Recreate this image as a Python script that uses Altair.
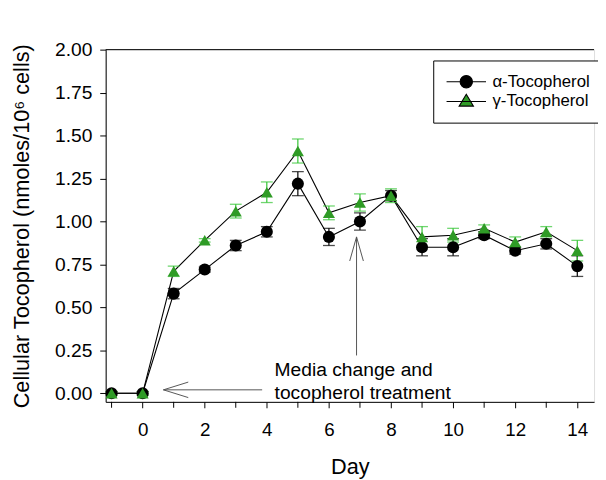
import altair as alt
import pandas as pd

days = [-1, 0, 1, 2, 3, 4, 5, 6, 7, 8, 9, 10, 11, 12, 13, 14]
alpha = [0.0, 0.0, 0.58, 0.72, 0.86, 0.94, 1.22, 0.91, 1.00, 1.15, 0.85, 0.85, 0.92, 0.83, 0.87, 0.74]
alpha_err = [0.01, 0.01, 0.03, 0.015, 0.03, 0.03, 0.07, 0.05, 0.05, 0.03, 0.05, 0.05, 0.02, 0.02, 0.03, 0.06]
gamma = [0.0, 0.0, 0.71, 0.89, 1.06, 1.17, 1.41, 1.05, 1.11, 1.15, 0.91, 0.92, 0.96, 0.88, 0.94, 0.83]
gamma_err = [0.01, 0.01, 0.03, 0.01, 0.04, 0.06, 0.07, 0.04, 0.05, 0.04, 0.06, 0.04, 0.02, 0.03, 0.03, 0.06]

series_names = ["α-Tocopherol", "γ-Tocopherol"]
label_days = [0, 2, 4, 6, 8, 10, 12, 14]
minor_days = [-1, 1, 3, 5, 7, 9, 11, 13]

rows = []
for name, vals, errs in [(series_names[0], alpha, alpha_err), (series_names[1], gamma, gamma_err)]:
    for d, v, e in zip(days, vals, errs):
        rows.append({"day": d, "value": v, "lo": v - e, "hi": v + e, "series": name})
df = pd.DataFrame(rows)

# annotation geometry (data coordinates)
note_x = [4.25, 4.25]
note_y = [0.135, 0.0]
note_text = ["Media change and", "tocopherol treatment"]
harrow_x = [3.85, 0.67]
harrow_y = [0.02, 0.02]
hhead_x = [1.47, 0.67, 1.47]
hhead_y = [0.065, 0.02, -0.025]
varrow_x = [6.89, 6.89]
varrow_y = [0.22, 0.91]
vhead_x = [6.67, 6.89, 7.11]
vhead_y = [0.77, 0.91, 0.77]

FONT = "Liberation Sans"
GREEN = "#2f9b26"
GREEN_ERR = "#33c433"
H = 357

xscale = alt.Scale(domain=[-1.19, 14.54], nice=False, zero=False)
yscale = alt.Scale(domain=[-0.05, 2.0], nice=False, zero=False)

xaxis = alt.Axis(
    title="Day", values=label_days, format="d",
    labelOverlap=False,
    grid=False, tickSize=6, tickColor="black", domainColor="black",
    labelFont=FONT, labelFontSize=19, labelColor="black", labelPadding=13,
    titleFont=FONT, titleFontSize=22, titleFontWeight="normal", titleColor="black",
    titlePadding=18,
)
yaxis = alt.Axis(
    title="Cellular Tocopherol (nmoles/10⁶ cells)",
    values=[0, 0.25, 0.5, 0.75, 1.0, 1.25, 1.5, 1.75, 2.0], format=".2f",
    labelOverlap=False,
    grid=False, tickSize=6, tickColor="black", domainColor="black",
    labelFont=FONT, labelFontSize=19.5, labelColor="black", labelPadding=8,
    titleFont=FONT, titleFontSize=22, titleFontWeight="normal", titleColor="black",
    titlePadding=21,
)

base = alt.Chart(df)

lines = base.mark_line(color="black", strokeWidth=1.1).encode(
    x=alt.X("day:Q", scale=xscale, axis=xaxis),
    y=alt.Y("value:Q", scale=yscale, axis=yaxis),
    detail="series:N",
)

minor = alt.Chart(pd.DataFrame({"day": minor_days})).mark_rule(color="black", strokeWidth=1).encode(
    x=alt.X("day:Q", scale=xscale),
    y=alt.value(H), y2=alt.value(H + 6),
)

err_color = alt.Color("series:N", scale=alt.Scale(domain=series_names, range=["black", GREEN_ERR]), legend=None)
err_rule = base.mark_rule(strokeWidth=1.2).encode(
    x="day:Q", y="lo:Q", y2="hi:Q", color=err_color
)
err_lo = base.mark_tick(orient="horizontal", size=12, thickness=1.3).encode(
    x="day:Q", y="lo:Q", color=err_color
)
err_hi = base.mark_tick(orient="horizontal", size=12, thickness=1.3).encode(
    x="day:Q", y="hi:Q", color=err_color
)

points = base.mark_point(filled=True, size=150, opacity=1).encode(
    x="day:Q",
    y="value:Q",
    shape=alt.Shape("series:N", scale=alt.Scale(domain=series_names, range=["circle", "triangle-up"]), legend=None),
    fill=alt.Fill("series:N", scale=alt.Scale(domain=series_names, range=["black", GREEN]), legend=None),
)

# legend glyphs: a line with the marker on it (unit = 5 px)
legend_paths = [
    "M-1.6,0L6.4,0M3.65,0A1.25,1.25,0,1,1,1.15,0A1.25,1.25,0,1,1,3.65,0Z",
    "M-1.6,0L6.4,0M0.95,0.95L3.85,0.95L2.4,-1.45Z",
]

def make_legend():
    return alt.Legend(
        title=None, orient="none", legendX=332, legendY=11,
        padding=13, strokeColor="black", fillColor="white",
        labelFont=FONT, labelFontSize=17, labelColor="black",
        labelOffset=30, rowPadding=2, symbolSize=100,
        symbolStrokeWidth=1.1, symbolOpacity=1,
    )

legend_layer = base.transform_filter("false").mark_point(
    filled=False, size=100, strokeWidth=1.1, opacity=1
).encode(
    x="day:Q",
    y="value:Q",
    shape=alt.Shape("series:N", scale=alt.Scale(domain=series_names, range=legend_paths), legend=make_legend()),
    fill=alt.Fill("series:N", scale=alt.Scale(domain=series_names, range=["black", GREEN]), legend=make_legend()),
    stroke=alt.Stroke("series:N", scale=alt.Scale(domain=series_names, range=["black", "black"]), legend=make_legend()),
)

top_rule = alt.Chart(pd.DataFrame({"y": [2.0]})).mark_rule(color="black", strokeWidth=1).encode(
    y=alt.Y("y:Q", scale=yscale)
)

note_df = pd.DataFrame({"x": note_x, "y": note_y, "t": note_text})
notes = alt.Chart(note_df).mark_text(
    align="left", baseline="middle", font=FONT, fontSize=19.5, color="black"
).encode(x="x:Q", y="y:Q", text="t:N")

arrow_color = "#555555"
def poly(xs, ys, name):
    d = pd.DataFrame({"x": xs, "y": ys, "o": list(range(len(xs))), "g": name})
    return alt.Chart(d).mark_line(color=arrow_color, strokeWidth=1).encode(
        x="x:Q", y="y:Q", order="o:Q"
    )

arrows = (
    poly(harrow_x, harrow_y, "h") + poly(hhead_x, hhead_y, "hh")
    + poly(varrow_x, varrow_y, "v") + poly(vhead_x, vhead_y, "vh")
)

chart = alt.layer(
    top_rule, lines, minor, err_rule, err_lo, err_hi, points, legend_layer, notes, arrows
).resolve_scale(shape="independent", fill="independent", stroke="independent").properties(
    width=495, height=H,
    autosize=alt.AutoSizeParams(type="none"),
    padding={"left": 99, "top": 39, "right": 4, "bottom": 76},
).configure_view(stroke=None).configure(background="white")

chart.save("out.html", embed_options={"renderer": "svg", "actions": False})
